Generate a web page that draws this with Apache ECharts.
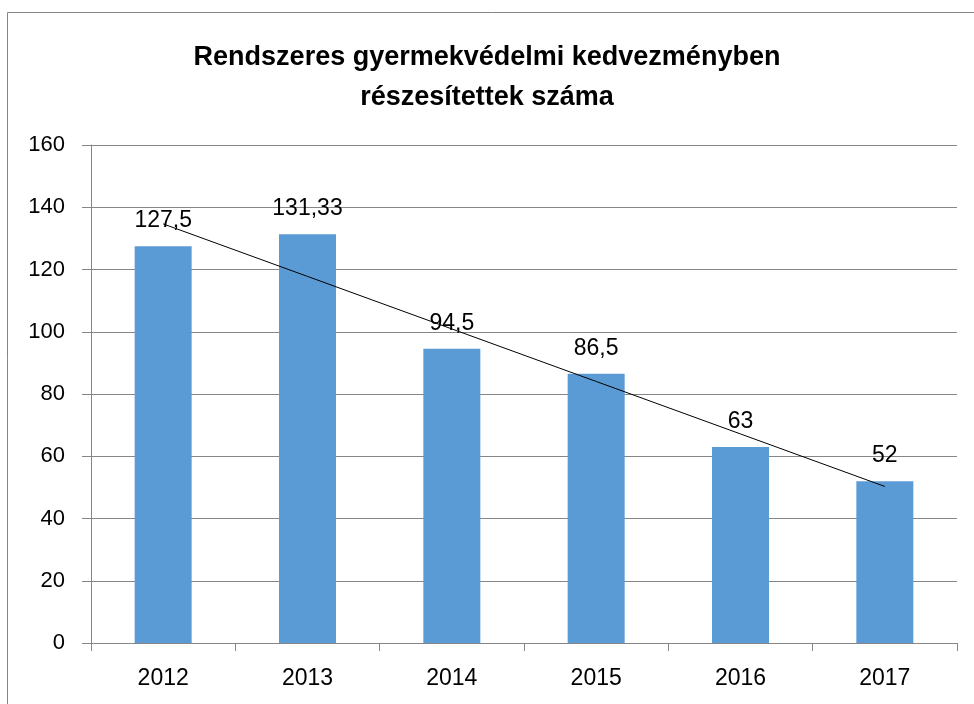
<!DOCTYPE html>
<html>
<head>
<meta charset="utf-8">
<script src="https://cdn.jsdelivr.net/npm/echarts@6/dist/echarts.min.js"></script>
<style>
  html, body { margin: 0; padding: 0; background: #fff; }
  #chart { width: 974px; height: 704px; }
</style>
</head>
<body>
<div id="chart"></div>
<script>
const years = ['2012', '2013', '2014', '2015', '2016', '2017'];
const values = [127.5, 131.33, 94.5, 86.5, 63, 52];
const yTicks = [0, 20, 40, 60, 80, 100, 120, 140, 160];

// linear trend line (least squares) over the category index
function trend(ys) {
  const n = ys.length;
  const mx = (n + 1) / 2;
  const my = ys.reduce((a, b) => a + b, 0) / n;
  let sxy = 0, sxx = 0;
  ys.forEach((y, i) => {
    sxy += (i + 1 - mx) * (y - my);
    sxx += (i + 1 - mx) * (i + 1 - mx);
  });
  const k = sxy / sxx;
  return ys.map((_, i) => my + k * (i + 1 - mx));
}

const font = '"Liberation Sans", sans-serif';
const chart = echarts.init(document.getElementById('chart'));
chart.setOption({
  animation: false,
  textStyle: { fontFamily: font },
  title: {
    text: 'Rendszeres gyermekvédelmi kedvezményben\nrészesítettek száma',
    left: 'center',
    top: 33,
    textStyle: { fontFamily: font, fontSize: 27, fontWeight: 'bold', color: '#000', lineHeight: 40 }
  },
  graphic: [{
    type: 'rect',
    shape: { x: 7.5, y: 12.5, width: 1000, height: 800 },
    style: { fill: 'none', stroke: '#868686', lineWidth: 1 },
    silent: true
  }],
  grid: { left: 91, right: 17, top: 145, bottom: 61 },
  xAxis: {
    type: 'category',
    data: years,
    axisLine: { lineStyle: { color: '#868686' } },
    axisTick: { show: true, length: 8, lineStyle: { color: '#868686' } },
    axisLabel: { color: '#000', fontSize: 23, margin: 24, fontFamily: font }
  },
  yAxis: {
    type: 'value',
    min: yTicks[0],
    max: yTicks[yTicks.length - 1],
    interval: 20,
    axisLine: { show: true, lineStyle: { color: '#868686' } },
    axisTick: { show: true, length: 9, lineStyle: { color: '#868686' } },
    splitLine: { lineStyle: { color: '#868686' } },
    axisLabel: { color: '#000', fontSize: 22, margin: 26, fontFamily: font }
  },
  series: [
    {
      type: 'bar',
      data: values,
      barWidth: 57,
      itemStyle: { color: '#5b9bd5' },
      label: {
        show: true,
        position: 'top',
        distance: 14,
        color: '#000',
        fontSize: 23,
        fontFamily: font,
        formatter: p => String(p.value).replace('.', ',')
      }
    },
    {
      type: 'line',
      data: trend(values),
      symbol: 'none',
      lineStyle: { color: '#000', width: 1 },
      z: 5
    }
  ]
});
</script>
</body>
</html>
